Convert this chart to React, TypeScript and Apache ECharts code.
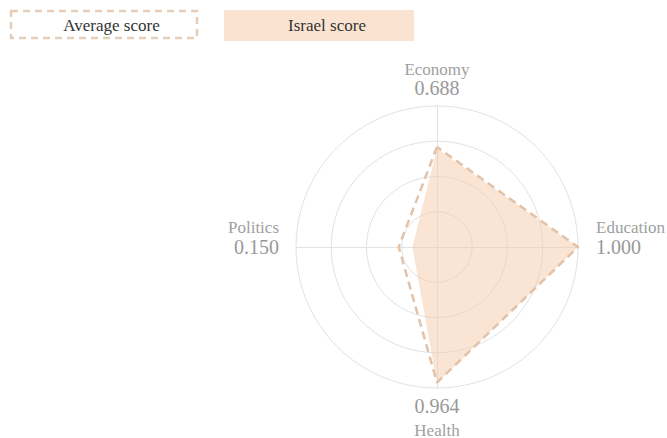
import React, { useEffect, useRef } from 'react';
import * as echarts from 'echarts';

const indicators = ['Economy', 'Politics', 'Health', 'Education'];
const israelScores = [0.688, 0.15, 0.964, 1.0];
const averageScores = [0.7, 0.25, 0.96, 1.0];
const seriesNames = ['Average score', 'Israel score'];

export default function App() {
  const ref = useRef<HTMLDivElement>(null);

  useEffect(() => {
    const chart = echarts.init(ref.current!, null, { renderer: 'svg' });
    const serif = 'Liberation Serif';
    const n = indicators.length;

    const formatter = (name: string) => {
      const i = indicators.indexOf(name);
      const val = israelScores[i].toFixed(3);
      const ang = ((90 + (i * 360) / n) * Math.PI) / 180;
      const c = Math.cos(ang);
      const s = Math.sin(ang);
      if (c > 0.3) return `{nr|${name}}\n{vr|${val}}\n{nr| }`;
      if (c < -0.3) return `{nl|${name}}\n{vl|${val}}\n{nl| }`;
      if (s > 0) return `{n|${name}}\n{v|${val}}`;
      return `{v|${val}}\n{nb|${name}}`;
    };

    const nameStyle = { fontSize: 17, lineHeight: 18, color: '#a0a0a0', fontFamily: serif };
    const valStyle = { fontSize: 20, lineHeight: 20, color: '#999999', fontFamily: serif };

    const option = {
      animation: false,
      textStyle: { fontFamily: serif },
      graphic: [
        {
          type: 'rect',
          shape: { x: 11, y: 11, width: 186, height: 27 },
          style: { fill: 'none', stroke: '#e6cdb9', lineWidth: 2.5, lineDash: [7, 5] },
        },
        {
          type: 'text',
          style: {
            text: seriesNames[0],
            x: 111.5,
            y: 25,
            align: 'center',
            verticalAlign: 'middle',
            fontSize: 17,
            fontFamily: serif,
            fill: '#333333',
          },
        },
        {
          type: 'rect',
          shape: { x: 224, y: 10, width: 190, height: 31 },
          style: { fill: '#fbe3d2' },
        },
        {
          type: 'text',
          style: {
            text: seriesNames[1],
            x: 327,
            y: 25.5,
            align: 'center',
            verticalAlign: 'middle',
            fontSize: 17,
            fontFamily: serif,
            fill: '#333333',
          },
        },
      ],
      radar: {
        center: [437, 247],
        radius: 141,
        startAngle: 90,
        splitNumber: 4,
        shape: 'circle',
        axisNameGap: 8,
        indicator: indicators.map((name) => ({ name, min: -0.03, max: 1 })),
        axisName: {
          formatter,
          fontFamily: serif,
          rich: {
            n: nameStyle,
            v: valStyle,
            nb: { ...nameStyle, lineHeight: 28 },
            nr: { ...nameStyle, lineHeight: 20, padding: [0, 0, 0, 10] },
            vr: { ...valStyle, padding: [0, 0, 0, 10] },
            nl: { ...nameStyle, lineHeight: 20, padding: [0, 9, 0, 0] },
            vl: { ...valStyle, padding: [0, 9, 0, 0] },
          },
        },
        axisLine: { lineStyle: { color: '#e2e2e2', width: 1 } },
        splitLine: { lineStyle: { color: '#e2e2e2', width: 1 } },
        splitArea: { show: false },
        axisTick: { show: false },
      },
      series: [
        {
          type: 'radar',
          name: seriesNames[1],
          z: 2,
          symbol: 'none',
          data: [
            {
              value: israelScores,
              name: seriesNames[1],
              areaStyle: { color: '#f6c9a8', opacity: 0.5 },
              lineStyle: { width: 0, opacity: 0 },
            },
          ],
        },
        {
          type: 'radar',
          name: seriesNames[0],
          z: 3,
          symbol: 'none',
          data: [
            {
              value: averageScores,
              name: seriesNames[0],
              lineStyle: { color: '#e2c3a9', width: 2.5, type: [8, 5], join: 'round', cap: 'butt' },
            },
          ],
        },
      ],
    };
    chart.setOption(option as any);
    return () => chart.dispose();
  }, []);

  return (
    <div
      ref={ref}
      style={{ position: 'fixed', left: 0, top: 0, width: 667, height: 438, background: '#ffffff' }}
    />
  );
}
